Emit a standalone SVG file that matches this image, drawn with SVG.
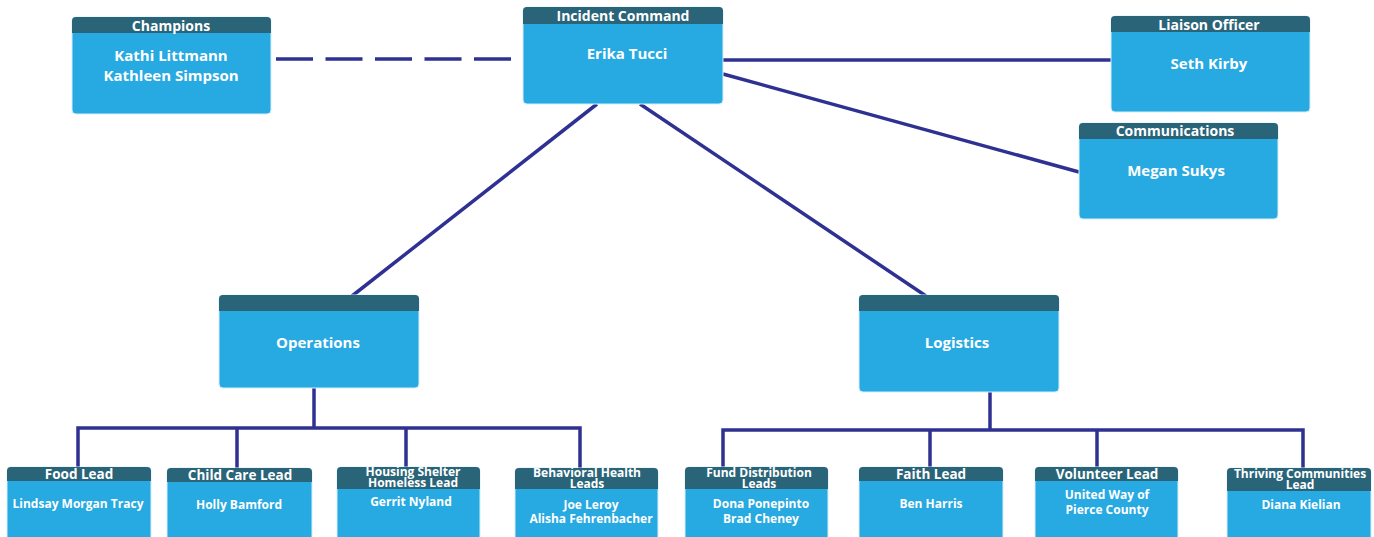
<svg xmlns="http://www.w3.org/2000/svg" width="1374" height="537" viewBox="0 0 1374 537">
<style>
.body{fill:#27a9e1;stroke:#d6eef9;stroke-width:1}
.hdr{fill:#2a6479}
text{font-family:"Open Sans",Lato,"Liberation Sans",sans-serif;font-weight:bold;fill:#ffffff;text-anchor:middle}
.h1{font-size:14px}
.n1{font-size:15px}
.h2{font-size:13.5px}
.h3{font-size:12px}
.n2{font-size:12px}
.c{stroke:#2e3192;stroke-width:3.5;fill:none}
</style>
<g id="connectors">
<line class="c" x1="276" y1="59" x2="520" y2="59" stroke-dasharray="37,12.5"/>
<line class="c" x1="723" y1="60" x2="1111" y2="60"/>
<line class="c" x1="723" y1="74" x2="1079" y2="172"/>
<line class="c" x1="597" y1="104" x2="352" y2="296"/>
<line class="c" x1="640" y1="104" x2="926" y2="296"/>
<polyline class="c" points="314,388 314,428"/>
<polyline class="c" points="78,467 78,428 580,428 580,468"/>
<line class="c" x1="237" y1="428" x2="237" y2="468"/>
<line class="c" x1="406" y1="428" x2="406" y2="467"/>
<polyline class="c" points="990,392 990,430"/>
<polyline class="c" points="723,467 723,430 1303,430 1303,468"/>
<line class="c" x1="930" y1="430" x2="930" y2="467"/>
<line class="c" x1="1097" y1="430" x2="1097" y2="467"/>
</g>
<g id="champions">
<rect class="body" x="72" y="17" width="199" height="97" rx="4"/>
<path class="hdr" d="M72,33 V21 a4,4 0 0 1 4,-4 H267 a4,4 0 0 1 4,4 V33 Z"/>
<text class="h1" x="171" y="31">Champions</text>
<text class="n1" x="171" y="61">Kathi Littmann</text>
<text class="n1" x="171" y="81">Kathleen Simpson</text>
</g>
<g id="incident-command">
<rect class="body" x="523" y="7" width="200" height="97" rx="4"/>
<path class="hdr" d="M523,24 V11 a4,4 0 0 1 4,-4 H719 a4,4 0 0 1 4,4 V24 Z"/>
<text class="h1" x="623" y="21">Incident Command</text>
<text class="n1" x="627" y="59">Erika Tucci</text>
</g>
<g id="liaison-officer">
<rect class="body" x="1111" y="16" width="199" height="96" rx="4"/>
<path class="hdr" d="M1111,32 V20 a4,4 0 0 1 4,-4 H1306 a4,4 0 0 1 4,4 V32 Z"/>
<text class="h1" x="1209" y="30">Liaison Officer</text>
<text class="n1" x="1209" y="69">Seth Kirby</text>
</g>
<g id="communications">
<rect class="body" x="1079" y="123" width="199" height="96" rx="4"/>
<path class="hdr" d="M1079,139 V127 a4,4 0 0 1 4,-4 H1274 a4,4 0 0 1 4,4 V139 Z"/>
<text class="h1" x="1175" y="136">Communications</text>
<text class="n1" x="1176" y="176">Megan Sukys</text>
</g>
<g id="operations">
<rect class="body" x="219" y="295" width="200" height="93" rx="4"/>
<path class="hdr" d="M219,311 V299 a4,4 0 0 1 4,-4 H415 a4,4 0 0 1 4,4 V311 Z"/>
<text class="n1" x="318" y="348">Operations</text>
</g>
<g id="logistics">
<rect class="body" x="859" y="295" width="200" height="97" rx="4"/>
<path class="hdr" d="M859,311 V299 a4,4 0 0 1 4,-4 H1055 a4,4 0 0 1 4,4 V311 Z"/>
<text class="n1" x="957" y="348">Logistics</text>
</g>
<g id="food-lead">
<rect class="body" x="7" y="467" width="144" height="80" rx="4"/>
<path class="hdr" d="M7,481 V471 a4,4 0 0 1 4,-4 H147 a4,4 0 0 1 4,4 V481 Z"/>
<text class="h2" x="79" y="479">Food Lead</text>
<text class="n2" x="78" y="508">Lindsay Morgan Tracy</text>
</g>
<g id="child-care-lead">
<rect class="body" x="167" y="468" width="145" height="80" rx="4"/>
<path class="hdr" d="M167,482 V472 a4,4 0 0 1 4,-4 H308 a4,4 0 0 1 4,4 V482 Z"/>
<text class="h2" x="240" y="480">Child Care Lead</text>
<text class="n2" x="239" y="509">Holly Bamford</text>
</g>
<g id="housing-shelter-lead">
<rect class="body" x="337" y="467" width="143" height="80" rx="4"/>
<path class="hdr" d="M337,489 V471 a4,4 0 0 1 4,-4 H476 a4,4 0 0 1 4,4 V489 Z"/>
<text class="h3" x="413" y="476">Housing Shelter</text>
<text class="h3" x="413" y="487">Homeless Lead</text>
<text class="n2" x="411" y="506">Gerrit Nyland</text>
</g>
<g id="behavioral-health-leads">
<rect class="body" x="515" y="468" width="143" height="80" rx="4"/>
<path class="hdr" d="M515,489 V472 a4,4 0 0 1 4,-4 H654 a4,4 0 0 1 4,4 V489 Z"/>
<text class="h3" x="587" y="477">Behavioral Health</text>
<text class="h3" x="587" y="488">Leads</text>
<text class="n2" x="591" y="509">Joe Leroy</text>
<text class="n2" x="591" y="523">Alisha Fehrenbacher</text>
</g>
<g id="fund-distribution-leads">
<rect class="body" x="685" y="467" width="143" height="80" rx="4"/>
<path class="hdr" d="M685,489 V471 a4,4 0 0 1 4,-4 H824 a4,4 0 0 1 4,4 V489 Z"/>
<text class="h3" x="759" y="477">Fund Distribution</text>
<text class="h3" x="759" y="488">Leads</text>
<text class="n2" x="761" y="508">Dona Ponepinto</text>
<text class="n2" x="761" y="523">Brad Cheney</text>
</g>
<g id="faith-lead">
<rect class="body" x="859" y="467" width="144" height="80" rx="4"/>
<path class="hdr" d="M859,481 V471 a4,4 0 0 1 4,-4 H999 a4,4 0 0 1 4,4 V481 Z"/>
<text class="h2" x="931" y="479">Faith Lead</text>
<text class="n2" x="931" y="508">Ben Harris</text>
</g>
<g id="volunteer-lead">
<rect class="body" x="1035" y="467" width="143" height="80" rx="4"/>
<path class="hdr" d="M1035,481 V471 a4,4 0 0 1 4,-4 H1174 a4,4 0 0 1 4,4 V481 Z"/>
<text class="h2" x="1107" y="479">Volunteer Lead</text>
<text class="n2" x="1107" y="499">United Way of</text>
<text class="n2" x="1107" y="514">Pierce County</text>
</g>
<g id="thriving-communities-lead">
<rect class="body" x="1227" y="468" width="144" height="80" rx="4"/>
<path class="hdr" d="M1227,491 V472 a4,4 0 0 1 4,-4 H1367 a4,4 0 0 1 4,4 V491 Z"/>
<text class="h3" x="1300" y="478">Thriving Communities</text>
<text class="h3" x="1300" y="489">Lead</text>
<text class="n2" x="1301" y="509">Diana Kielian</text>
</g>
</svg>
